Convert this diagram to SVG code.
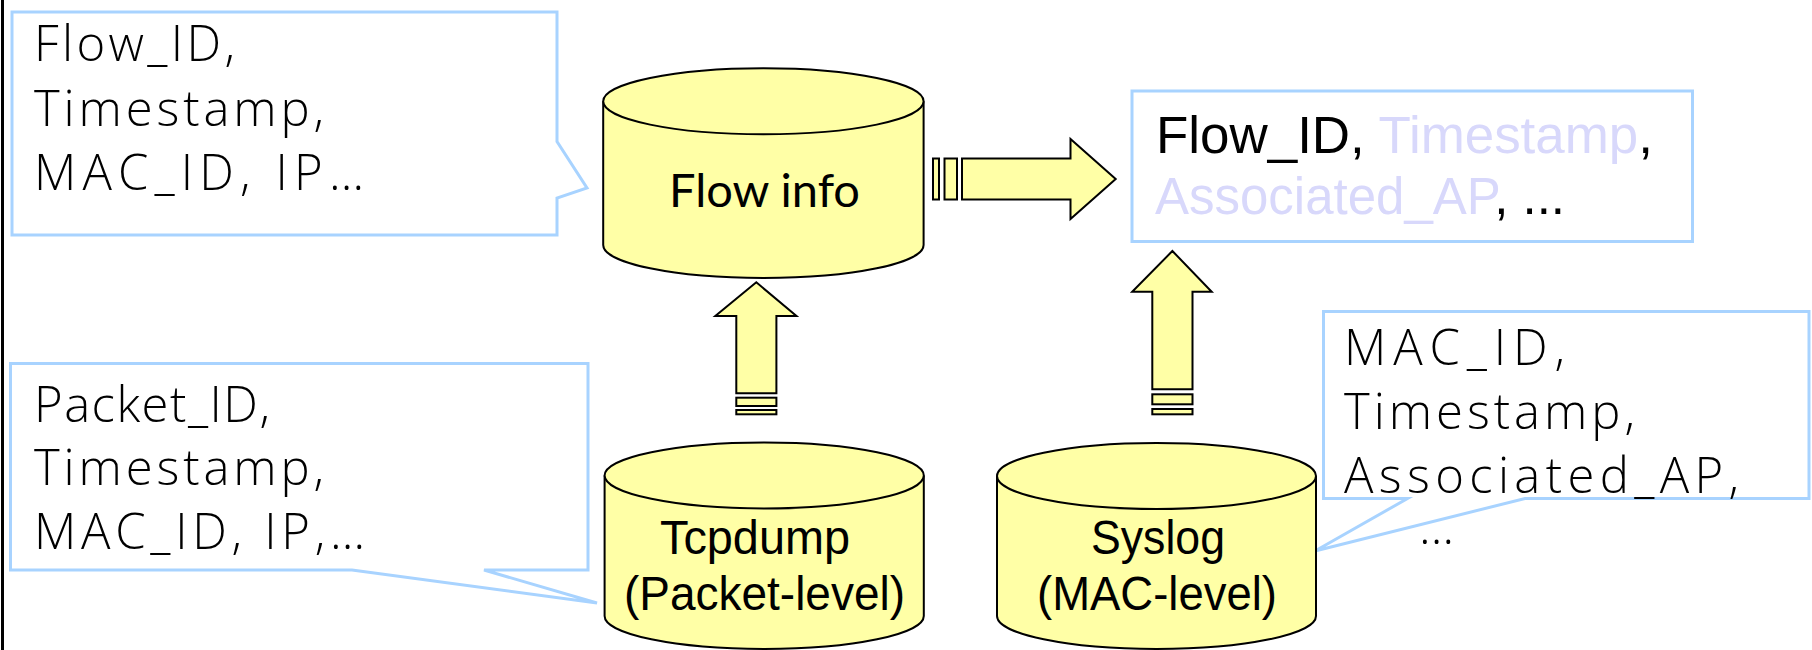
<svg xmlns="http://www.w3.org/2000/svg" width="1812" height="650" viewBox="0 0 1812 650">
<style>
.bg{fill:#ffffff}
.callout{fill:#ffffff;stroke:#a8d3ff;stroke-width:3;stroke-linejoin:miter}
.db{fill:#ffffa6;stroke:#000000;stroke-width:2}
.arrow{fill:#ffffa6;stroke:#000000;stroke-width:2;stroke-linejoin:miter}
.ct{font-family:"Open Sans","Noto Sans","DejaVu Sans",sans-serif;font-weight:300;font-size:49px;fill:#000000}
.at{font-family:"Liberation Sans",Arial,sans-serif;font-size:49px;fill:#000000}
.bt{font-family:"Liberation Sans",Arial,sans-serif;font-size:51px;fill:#000000}
.ft{font-family:Lato,"Noto Sans",sans-serif;font-size:46px;fill:#000000}
.dim{fill:#d8d8fb}
</style>
<rect class="bg" x="0" y="0" width="1812" height="650"/>
<line x1="2.5" y1="0" x2="2.5" y2="650" stroke="#000000" stroke-width="3"/>

<g id="callout-flow">
<path class="callout" d="M12,12 H557 V141.5 L587,188 L557,198 V235 H12 Z"/>
<text class="ct" x="34" y="61" textLength="201" lengthAdjust="spacing">Flow_ID,</text>
<text class="ct" x="34" y="126" textLength="290" lengthAdjust="spacing">Timestamp,</text>
<text class="ct" x="34" y="190" textLength="330" lengthAdjust="spacing">MAC_ID, IP…</text>
</g>

<g id="callout-packet">
<path class="callout" d="M10.5,363.5 H588 V570 H484 L597,603 L352,570 H10.5 Z"/>
<text class="ct" x="34" y="421.5" textLength="236" lengthAdjust="spacing">Packet_ID,</text>
<text class="ct" x="34" y="484.5" textLength="290" lengthAdjust="spacing">Timestamp,</text>
<text class="ct" x="34" y="548.5" textLength="331" lengthAdjust="spacing">MAC_ID, IP,…</text>
</g>

<g id="callout-mac">
<path class="callout" d="M1323.5,311.5 H1809 V498.5 H1525 L1315,551 L1407.5,498.5 H1323.5 Z"/>
<text class="ct" x="1344" y="365" textLength="221" lengthAdjust="spacing">MAC_ID,</text>
<text class="ct" x="1344" y="428.5" textLength="291" lengthAdjust="spacing">Timestamp,</text>
<text class="ct" x="1344" y="492.5" textLength="395" lengthAdjust="spacing">Associated_AP,</text>
<text class="ct" x="1419" y="543.5" textLength="46" lengthAdjust="spacing">…</text>
</g>

<g id="result-box">
<rect class="callout" x="1132" y="91" width="560.5" height="150.5"/>
<text class="bt" x="1156" y="152.5" textLength="497" lengthAdjust="spacingAndGlyphs">Flow_ID, <tspan class="dim">Timestamp</tspan>,</text>
<text class="bt" x="1155" y="213.5" textLength="410" lengthAdjust="spacingAndGlyphs"><tspan class="dim">Associated_AP</tspan>, ...</text>
</g>

<g id="db-flowinfo">
<path class="db" d="M603.2,101.3 V245 A160.2,33 0 0 0 923.6,245 V101.3"/>
<ellipse class="db" cx="763.4" cy="101.3" rx="160.2" ry="33"/>
<text class="ft" x="669" y="207" textLength="191" lengthAdjust="spacingAndGlyphs">Flow info</text>
</g>

<g id="db-tcpdump">
<path class="db" d="M604.6,475.5 V616 A159.6,33 0 0 0 923.8,616 V475.5"/>
<ellipse class="db" cx="764.2" cy="475.5" rx="159.6" ry="33"/>
<text class="at" x="660" y="553.5" textLength="190" lengthAdjust="spacingAndGlyphs">Tcpdump</text>
<text class="at" x="624" y="610" textLength="281" lengthAdjust="spacingAndGlyphs">(Packet-level)</text>
</g>

<g id="db-syslog">
<path class="db" d="M997,476 V616 A159.5,33 0 0 0 1316,616 V476"/>
<ellipse class="db" cx="1156.5" cy="476" rx="159.5" ry="33"/>
<text class="at" x="1091" y="553.5" textLength="134" lengthAdjust="spacingAndGlyphs">Syslog</text>
<text class="at" x="1037" y="610" textLength="240" lengthAdjust="spacingAndGlyphs">(MAC-level)</text>
</g>

<g id="connectors">
<g id="arrow-flow-to-result">
<rect class="arrow" x="933" y="158.5" width="6" height="41"/>
<rect class="arrow" x="944.5" y="158.5" width="12.5" height="41"/>
<path class="arrow" d="M962,158.5 H1070.5 V139 L1115.7,179 L1070.5,219 V199.5 H962 Z"/>
</g>
<g id="arrow-tcpdump-to-flow">
<path class="arrow" d="M736.3,393.3 V316 H715.3 L756.3,282.3 L796.5,316 H776.4 V393.3 Z"/>
<rect class="arrow" x="736.3" y="397.7" width="40.1" height="8.3"/>
<rect class="arrow" x="736.3" y="410" width="40.1" height="4.3"/>
</g>
<g id="arrow-syslog-to-result">
<path class="arrow" d="M1152.3,389.3 V291.7 H1132.2 L1172.4,251 L1211.7,291.7 H1192.5 V389.3 Z"/>
<rect class="arrow" x="1152.3" y="394.3" width="40.2" height="10"/>
<rect class="arrow" x="1152.3" y="409" width="40.2" height="5.3"/>
</g>
</g>
</svg>
